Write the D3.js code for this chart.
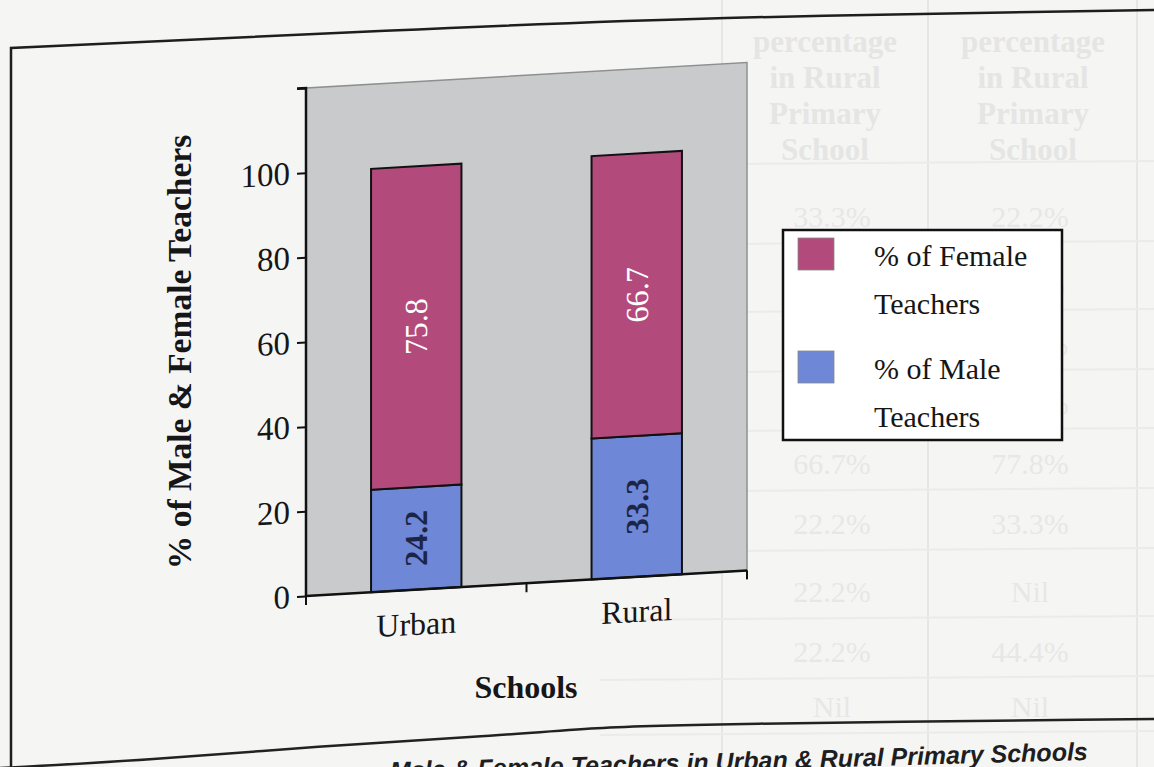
<!DOCTYPE html>
<html>
<head>
<meta charset="utf-8">
<script src="https://cdn.jsdelivr.net/npm/d3@7/dist/d3.min.js"></script>
<style>
  html, body { margin: 0; padding: 0; background: #f5f5f4; }
  svg { display: block; }
</style>
</head>
<body>
<svg id="chart" width="1154" height="767"></svg>
<script>
// ---- data ----
const schools = ["Urban", "Rural"];
const femalePct = [75.8, 66.7];
const malePct = [24.2, 33.3];
const yTickValues = [0, 20, 40, 60, 80, 100, 120];
const yTickLabels = ["0", "20", "40", "60", "80", "100", ""];
const seriesNames = ["% of Female Teachers", "% of Male Teachers"];
const seriesColors = ["#b34a7c", "#6e87d7"];

// faint table printed on the facing side of the page
const tableHeader = ["percentage", "in Rural", "Primary", "School"];
const tableColA = ["33.3%", "55.6%", "66.7%", "33.3%", "66.7%", "22.2%", "22.2%", "22.2%", "Nil"];
const tableColB = ["22.2%", "100%", "11.1%", "88.9%", "77.8%", "33.3%", "Nil", "44.4%", "Nil"];

const svg = d3.select("#chart");
const W = 1154, H = 767;

// ---- page backdrop ----
const ghost = svg.append("g").attr("class", "ghost-table").attr("opacity", 0.45);
[722, 928, 1137].forEach(x => {
  ghost.append("line").attr("x1", x).attr("x2", x).attr("y1", 0).attr("y2", H)
    .attr("stroke", "#d6d6d6").attr("stroke-width", 2);
});
const rowY = [215, 283, 343, 402, 462, 522, 590, 650, 705];
[165].concat(rowY.map(y => y + 30)).forEach(y => {
  ghost.append("line").attr("x1", 600).attr("x2", W).attr("y1", y).attr("y2", y - 4)
    .attr("stroke", "#e0e0e0").attr("stroke-width", 2);
});
const hdrY = [52, 88, 124, 160];
[825, 1033].forEach(cx => {
  tableHeader.forEach((t, i) => {
    ghost.append("text").attr("x", cx).attr("y", hdrY[i]).attr("text-anchor", "middle")
      .attr("font-family", "Liberation Serif").attr("font-weight", "bold")
      .attr("font-size", 31).attr("fill", "#d2d2d2").text(t);
  });
});
rowY.forEach((y, i) => {
  ghost.append("text").attr("x", 832).attr("y", y + 12).attr("text-anchor", "middle")
    .attr("font-family", "Liberation Serif").attr("font-size", 30).attr("fill", "#d8d8d8").text(tableColA[i]);
  ghost.append("text").attr("x", 1030).attr("y", y + 12).attr("text-anchor", "middle")
    .attr("font-family", "Liberation Serif").attr("font-size", 30).attr("fill", "#d8d8d8").text(tableColB[i]);
});

// ---- frame of the figure ----
const curve = d3.line().curve(d3.curveBasis);
svg.append("path")
  .attr("d", "M11,767 L11,48 " + curve([[11, 48], [400, 30], [700, 17], [1154, 10]]).replace(/^M/, "L"))
  .attr("fill", "none").attr("stroke", "#1e1e1e").attr("stroke-width", 2.5);
svg.append("path")
  .attr("d", curve([[0, 768], [150, 760], [320, 746], [480, 737], [600, 727], [700, 724], [1154, 719]]))
  .attr("fill", "none").attr("stroke", "#222").attr("stroke-width", 2.5);

// ---- plot (drawn with a slight page skew) ----
const x0 = 306, x1 = 747, yBase = 596, yTop = 88;
const k = -0.058;
const plot = svg.append("g")
  .attr("transform", `matrix(1, ${k}, 0, 1, 0, ${-k * x0})`);

const x = d3.scaleBand().domain(schools).range([x0, x1]).paddingInner(0.59).paddingOuter(0.295);
const y = d3.scaleLinear().domain([0, 120]).range([yBase, yTop]);

plot.append("rect")
  .attr("x", x0).attr("y", yTop).attr("width", x1 - x0).attr("height", yBase - yTop)
  .attr("fill", "#c8cacb").attr("stroke", "#8e9090").attr("stroke-width", 1.5);

const rows = schools.map((s, i) => ({ school: s, male: malePct[i], female: femalePct[i] }));
const stack = d3.stack().keys(["male", "female"])(rows);
const colorOf = { female: seriesColors[0], male: seriesColors[1] };

stack.forEach(layer => {
  plot.append("g").selectAll("rect").data(layer).join("rect")
    .attr("x", d => x(d.data.school))
    .attr("y", d => y(d[1]))
    .attr("width", x.bandwidth())
    .attr("height", d => y(d[0]) - y(d[1]))
    .attr("fill", colorOf[layer.key])
    .attr("stroke", "#111").attr("stroke-width", 2);
});

// value labels inside the segments
stack.forEach(layer => {
  plot.append("g").selectAll("text").data(layer).join("text")
    .attr("transform", d => `translate(${x(d.data.school) + x.bandwidth() / 2},${y((d[0] + d[1]) / 2)}) rotate(-90)`)
    .attr("text-anchor", "middle").attr("dy", "0.35em")
    .attr("font-family", "Liberation Serif").attr("font-size", 32)
    .attr("font-weight", layer.key === "male" ? "bold" : "normal")
    .attr("fill", layer.key === "female" ? "#ffffff" : "#1d2547")
    .text(d => d.data[layer.key].toFixed(1));
});

// y axis
const yAxis = d3.axisLeft(y).tickValues(yTickValues).tickSize(9).tickPadding(7)
  .tickFormat((d, i) => yTickLabels[i]);
const gy = plot.append("g").attr("transform", `translate(${x0},0)`).call(yAxis);
gy.select(".domain").attr("stroke", "#111").attr("stroke-width", 2.5).attr("d", `M-9,${yTop}H0V${yBase}`);
gy.selectAll(".tick line").attr("stroke", "#111").attr("stroke-width", 2);
gy.selectAll(".tick text").attr("font-family", "Liberation Serif").attr("font-size", 33).attr("fill", "#161616");

// x axis: category labels, tick marks between the categories
const xAxis = d3.axisBottom(x).tickSize(0).tickPadding(18);
const gx = plot.append("g").attr("transform", `translate(0,${yBase})`).call(xAxis);
gx.select(".domain").attr("stroke", "#111").attr("stroke-width", 2.5).attr("d", `M${x0},0H${x1}`);
gx.selectAll(".tick text").attr("font-family", "Liberation Serif").attr("font-size", 32)
  .attr("fill", "#161616").attr("dy", "0.85em");
const bounds = [x0].concat(schools.map(s => x(s) + x.bandwidth() + x.step() * x.paddingInner() / 2));
bounds[bounds.length - 1] = x1;
gx.selectAll("line.sep").data(bounds).join("line").attr("class", "sep")
  .attr("x1", d => d).attr("x2", d => d).attr("y1", 0).attr("y2", 9)
  .attr("stroke", "#111").attr("stroke-width", 2);

// ---- axis titles ----
svg.append("text")
  .attr("transform", "translate(191,352) rotate(-90)")
  .attr("text-anchor", "middle")
  .attr("font-family", "Liberation Serif").attr("font-weight", "bold").attr("font-size", 33.5)
  .attr("fill", "#161616").text("% of Male & Female Teachers");

svg.append("text")
  .attr("x", 526).attr("y", 698).attr("text-anchor", "middle")
  .attr("font-family", "Liberation Serif").attr("font-weight", "bold").attr("font-size", 32)
  .attr("fill", "#161616").text("Schools");

// ---- legend ----
const lg = svg.append("g").attr("transform", "translate(783,230)");
lg.append("rect").attr("width", 279).attr("height", 210)
  .attr("fill", "#ffffff").attr("stroke", "#111").attr("stroke-width", 2.5);
const legendLines = [["% of Female", "Teachers"], ["% of Male", "Teachers"]];
seriesNames.forEach((name, i) => {
  const gy0 = 8 + i * 113;
  lg.append("rect").attr("x", 15).attr("y", gy0).attr("width", 36).attr("height", 32)
    .attr("fill", seriesColors[i]).attr("stroke", "#888").attr("stroke-width", 0.8);
  const t = lg.append("text").attr("font-family", "Liberation Serif").attr("font-size", 30)
    .attr("fill", "#161616");
  t.append("tspan").attr("x", 91).attr("y", gy0 + 28).text(legendLines[i][0]);
  t.append("tspan").attr("x", 91).attr("y", gy0 + 76).text(legendLines[i][1]);
});

// ---- caption (runs off the bottom of the page) ----
svg.append("text")
  .attr("transform", "translate(1088,760) rotate(-1.6)")
  .attr("text-anchor", "end")
  .attr("font-family", "Liberation Sans").attr("font-weight", "bold").attr("font-style", "italic")
  .attr("font-size", 25).attr("fill", "#1e1e1e")
  .text("Male & Female Teachers in Urban & Rural Primary Schools");
</script>
</body>
</html>
